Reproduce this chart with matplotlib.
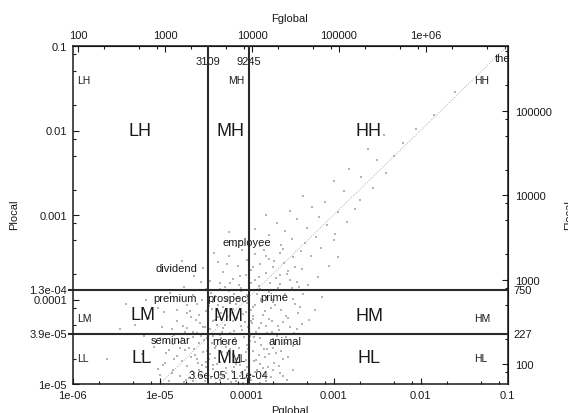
import matplotlib
matplotlib.use("Agg")
import matplotlib.pyplot as plt
from matplotlib.ticker import LogLocator, FuncFormatter, NullFormatter

plt.rcParams['font.family'] = ['Liberation Sans', 'DejaVu Sans']

# ---------------- data ----------------
global_total = 8.64e7          # Fglobal = Pglobal * global_total
local_total = 5.8e6            # Flocal  = Plocal  * local_total
fglobal_cuts = [3109, 9245]
pglobal_cut_labels = ['3.6e-05', '1.1e-04']
flocal_cuts = [750, 227]
plocal_cut_labels = ['1.3e-04', '3.9e-05']

# scatter cloud, (log10 Pglobal, log10 Plocal)
pts_low = [(-4.62,-4.97),(-4.41,-4.93),(-4.18,-4.98),(-3.95,-4.95),(-4.77,-4.91),(-4.05,-4.88),
           (-4.33,-4.86),(-3.72,-4.92),(-4.55,-4.84),(-4.89,-4.96),(-3.88,-4.83),(-4.24,-4.81),
           (-4.68,-4.79),(-4.12,-4.76),(-3.61,-4.87),(-4.47,-4.74),(-4.01,-4.72),(-4.83,-4.71),
           (-4.36,-4.69),(-3.79,-4.68),(-4.59,-4.66),(-4.15,-4.64),(-5.02,-4.82),(-4.93,-4.63),
           (-3.93,-4.61),(-4.28,-4.62),(-4.71,-4.60),(-3.68,-4.75),(-4.44,-4.99),(-4.08,-4.91),
           (-3.84,-4.99),(-4.52,-4.90),(-4.99,-4.89),(-5.11,-4.74),(-4.21,-4.94),(-3.99,-4.80),
           (-4.63,-4.85),(-3.54,-4.95),(-4.38,-4.77),(-3.75,-4.80),(-4.80,-4.67),(-4.10,-4.69),
           (-3.86,-4.66),(-4.50,-4.62),(-4.26,-4.73),(-3.47,-4.83),(-4.72,-4.98),(-4.31,-4.95),
           (-3.66,-4.63),(-5.20,-4.65),(-4.96,-4.78),(-4.04,-4.99),(-4.57,-4.71),(-3.91,-4.73),
           (-4.17,-4.85),(-3.58,-4.71),(-4.86,-4.87),(-4.42,-4.65),(-3.80,-4.89),(-4.66,-4.93),
           (-5.60,-4.70)]
pts_lowmid = [(-4.60,-4.58),(-4.35,-4.55),(-4.09,-4.57),(-3.83,-4.54),(-4.84,-4.53),(-5.06,-4.56),
              (-4.22,-4.51),(-3.96,-4.49),(-4.49,-4.48),(-4.74,-4.46),(-3.70,-4.47),(-4.03,-4.44),
              (-4.30,-4.42),(-5.18,-4.43),(-4.90,-4.41),(-3.55,-4.52),(-4.57,-4.40),(-3.89,-4.39),
              (-4.14,-4.37),(-4.42,-4.35),(-4.68,-4.34),(-3.63,-4.36),(-4.97,-4.32),(-3.78,-4.31),
              (-4.25,-4.30),(-4.53,-4.28),(-4.02,-4.27),(-3.45,-4.40),(-4.80,-4.26),(-5.28,-4.30),
              (-4.36,-4.24),(-3.92,-4.23),(-4.11,-4.22),(-4.64,-4.21),(-3.71,-4.25),(-3.36,-4.29),
              (-4.45,-4.46),(-4.19,-4.59),(-3.98,-4.33),(-4.76,-4.57),(-5.12,-4.22),(-3.85,-4.45),
              (-4.28,-4.38),(-4.62,-4.44),(-4.00,-4.54),(-3.58,-4.27),(-4.93,-4.50),(-4.40,-4.52),
              (-3.76,-4.58),(-4.16,-4.48),(-4.71,-4.38),(-3.50,-4.33),(-4.33,-4.21),(-3.28,-4.24),
              (-4.86,-4.35),(-4.07,-4.41),(-3.65,-4.43),(-4.50,-4.33),(-5.00,-4.45),(-3.94,-4.28),
              (-5.45,-4.35)]
pts_mid = [(-4.55,-4.18),(-4.29,-4.16),(-4.04,-4.17),(-3.79,-4.14),(-4.80,-4.13),(-3.55,-4.19),
           (-4.16,-4.11),(-3.92,-4.09),(-4.43,-4.08),(-4.68,-4.06),(-3.67,-4.07),(-5.02,-4.10),
           (-4.00,-4.04),(-4.24,-4.02),(-3.44,-4.05),(-4.51,-4.01),(-3.83,-3.99),(-4.10,-3.97),
           (-4.36,-3.96),(-4.62,-3.95),(-3.58,-3.98),(-3.21,-4.12),(-4.88,-3.92),(-3.74,-3.91),
           (-4.20,-3.90),(-3.97,-3.88),(-4.46,-3.87),(-3.35,-3.93),(-4.72,-3.85),(-3.86,-3.84),
           (-4.09,-3.83),(-3.62,-3.82),(-4.31,-3.81),(-3.48,-3.86),(-5.15,-4.00),(-4.58,-3.89),
           (-3.13,-3.97),(-3.95,-4.13),(-4.38,-4.03),(-3.70,-4.01),(-4.14,-3.93),(-4.95,-4.15),
           (-3.41,-4.16),(-4.27,-4.09),(-3.88,-3.94),(-3.52,-3.89),(-4.65,-4.14),(-4.06,-3.86),
           (-3.29,-3.83),(-4.41,-3.92),(-5.38,-4.05)]
pts_core = [(-4.70,-4.95),(-4.48,-4.96),(-4.27,-4.90),(-4.02,-4.93),(-3.78,-4.97),(-3.58,-4.90),
            (-4.85,-4.84),(-4.60,-4.88),(-4.39,-4.82),(-4.14,-4.80),(-3.90,-4.86),(-3.70,-4.84),
            (-4.94,-4.75),(-4.74,-4.73),(-4.51,-4.78),(-4.30,-4.74),(-4.07,-4.78),(-3.84,-4.76),
            (-3.63,-4.79),(-4.64,-4.68),(-4.43,-4.70),(-4.20,-4.66),(-3.97,-4.69),(-3.74,-4.65),
            (-3.52,-4.68),(-4.89,-4.60),(-4.66,-4.57),(-4.45,-4.61),(-4.24,-4.56),(-4.01,-4.62),
            (-3.80,-4.59),(-3.60,-4.61),(-4.78,-4.50),(-4.55,-4.52),(-4.33,-4.48),(-4.12,-4.52),
            (-3.90,-4.50),(-3.68,-4.52),(-3.47,-4.55),(-4.83,-4.42),(-4.62,-4.39),(-4.39,-4.43),
            (-4.19,-4.40),(-3.96,-4.43),(-3.76,-4.40),(-3.55,-4.44),(-4.73,-4.31),(-4.48,-4.32),
            (-4.27,-4.34),(-4.06,-4.31),(-3.86,-4.34),(-3.64,-4.31),(-3.42,-4.35),(-4.58,-4.24),
            (-4.38,-4.26),(-4.15,-4.25),(-3.95,-4.26),(-3.74,-4.23),(-3.52,-4.22),(-4.68,-4.16),
            (-4.46,-4.14),(-4.22,-4.19),(-4.01,-4.15),(-3.81,-4.18),(-3.60,-4.13),(-3.38,-4.09),
            (-4.57,-4.05),(-4.33,-4.07),(-4.12,-4.05),(-3.90,-4.06),(-3.69,-4.03),(-3.47,-3.99),
            (-4.44,-3.97),(-4.21,-3.98),(-3.99,-3.95),(-3.78,-3.97),(-3.56,-3.93),(-4.30,-3.88),
            (-4.06,-3.90),(-3.85,-3.88),(-3.64,-3.86),(-3.40,-3.85),(-4.52,-3.79),(-4.19,-3.81),
            (-3.95,-3.80),(-3.73,-3.81),(-3.50,-3.77),(-4.08,-3.72),(-3.86,-3.73),(-3.62,-3.71),
            (-3.44,-3.62),(-3.93,-3.62),(-4.22,-3.58),(-3.78,-3.48),(-3.58,-3.40),(-4.12,-3.37),
            (-4.35,-4.99),(-4.12,-4.97),(-3.92,-4.91),(-4.23,-4.87),(-4.46,-4.80),(-4.02,-4.83),
            (-3.81,-4.81),(-4.34,-4.76),(-4.11,-4.71),(-3.89,-4.72),(-4.56,-4.75),(-4.22,-4.63),
            (-3.98,-4.58),(-4.36,-4.57),(-3.69,-4.57),(-4.13,-4.46),(-3.91,-4.44),(-4.29,-4.45),
            (-4.52,-4.43),(-3.71,-4.38),(-4.05,-4.36),(-4.34,-4.30),(-3.83,-4.28),(-4.18,-4.16),
            (-3.93,-4.20),(-4.40,-4.11),(-3.72,-4.10),(-4.07,-4.00),(-3.83,-4.02),(-4.25,-3.85)]
pts_upper = [(-4.42,-3.78),(-4.15,-3.76),(-3.90,-3.77),(-3.66,-3.74),(-3.42,-3.79),(-4.60,-3.72),
             (-4.01,-3.71),(-3.78,-3.69),(-3.54,-3.70),(-4.27,-3.68),(-3.18,-3.73),(-3.95,-3.65),
             (-4.50,-3.63),(-3.70,-3.62),(-3.36,-3.64),(-4.10,-3.60),(-3.84,-3.58),(-3.57,-3.57),
             (-4.33,-3.56),(-3.05,-3.60),(-3.99,-3.53),(-3.74,-3.52),(-3.47,-3.50),(-4.20,-3.49),
             (-3.26,-3.48),(-3.90,-3.46),(-3.62,-3.45),(-4.74,-3.55),(-3.37,-3.43),(-4.05,-3.42),
             (-2.95,-3.50),(-3.80,-3.41),(-3.52,-3.66),(-4.37,-3.45),(-3.14,-3.39),(-3.68,-3.55),
             (-3.85,-3.37),(-3.60,-3.35),(-3.33,-3.33),(-4.08,-3.31),(-3.48,-3.28),(-3.20,-3.26),
             (-3.74,-3.24),(-2.98,-3.22),(-3.56,-3.19),(-3.90,-3.17),(-3.30,-3.15),(-3.08,-3.12),
             (-3.65,-3.10),(-2.85,-3.08),(-3.42,-3.05),(-3.17,-3.02),(-3.78,-3.00),(-2.95,-2.97),
             (-3.50,-2.95),(-2.75,-2.93),(-3.25,-2.91),(-4.20,-3.20),(-3.00,-3.30)]
pts_tail = [(-3.10,-2.85),(-2.70,-2.82),(-3.35,-2.78),(-2.88,-2.72),(-2.55,-2.68),(-3.00,-2.60),
            (-2.68,-2.55),(-2.40,-2.50),(-2.82,-2.45),(-2.50,-2.35),(-2.30,-2.30),(-2.60,-2.22),
            (-2.20,-2.15),(-2.42,-2.05),(-2.05,-1.98),(-1.85,-1.82),(-1.60,-1.55)]

quad_names = ['LH', 'MH', 'HH', 'LM', 'MM', 'HM', 'LL', 'ML', 'HL']
small_names = ['LH', 'MH', 'HH', 'LM', 'HM', 'LL', 'ML', 'HL']
words = ['the', 'employee', 'dividend', 'premium', 'prospect', 'prime', 'seminar', 'mere', 'animal']

# ---------------- figure ----------------
W, H = 568, 414
fig = plt.figure(figsize=(W / 100, H / 100), dpi=100)
L, R, T, B = 72.5, 507.5, 47.0, 385.0
ax = fig.add_axes([L / W, (H - B) / H, (R - L) / W, (B - T) / H])
ax.set_xscale('log')
ax.set_yscale('log')
ax.set_xlim(1e-6, 0.1)
ax.set_ylim(1e-5, 0.1)

def at(px, py):
    """pixel position -> data coordinates (layout helper)"""
    return (10 ** (-6 + 5 * (px - L) / (R - L)), 10 ** (-5 + 4 * (B - py) / (B - T)))

ink = '#1a1a1a'
gfmt = FuncFormatter(lambda v, _: '%g' % v)

# scatter
allpts = pts_low + pts_lowmid + pts_mid + pts_core + pts_upper + pts_tail
xs = [10 ** p[0] for p in allpts]
ys = [10 ** p[1] for p in allpts]
ax.scatter(xs, ys, s=1.1, c='#b4b4b4', linewidths=0, marker='s', zorder=1)

# diagonal Plocal = Pglobal
diag = [1e-5, 0.1]
ax.plot(diag, diag, color='#b0b0b0', lw=0.7, ls=(0, (1, 1.5)), zorder=1)

# threshold lines
pg_cuts = [f / global_total for f in fglobal_cuts]
pl_cuts = [f / local_total for f in flocal_cuts]
for x in pg_cuts:
    ax.axvline(x, color='#2a2a2a', lw=1.5, zorder=3)
for y in pl_cuts:
    ax.axhline(y, color='#2a2a2a', lw=1.5, zorder=3)

# threshold labels
for x, f, lab in zip(pg_cuts, fglobal_cuts, pglobal_cut_labels):
    ax.text(x, 1 - 15 / (B - T), str(f), transform=ax.get_xaxis_transform(),
            ha='center', va='center', fontsize=8, color=ink, zorder=2)
    ax.text(x, 9 / (B - T), lab, transform=ax.get_xaxis_transform(),
            ha='center', va='center', fontsize=8, color=ink, zorder=2)
for y, f, lab in zip(pl_cuts, flocal_cuts, plocal_cut_labels):
    ax.text(-5.5 / (R - L), y, lab, transform=ax.get_yaxis_transform(),
            ha='right', va='center', fontsize=8, color=ink, clip_on=False)
    ax.plot([-4 / (R - L), 0], [y, y], transform=ax.get_yaxis_transform(),
            color='#2a2a2a', lw=1.5, clip_on=False)
    ax.text(1 + 5.5 / (R - L), y, str(f), transform=ax.get_yaxis_transform(),
            ha='left', va='center', fontsize=8, color=ink, clip_on=False)

# big quadrant labels
big_pos = [(140, 132), (230, 132), (368, 132), (143, 316), (228, 317), (369, 317),
           (141, 359), (229, 359), (369, 359)]
for name, (px, py) in zip(quad_names, big_pos):
    ax.text(*at(px, py), name, ha='center', va='center', fontsize=13, color=ink, zorder=2)

# small quadrant labels
small_pos = [(77, 81), (228, 81), (474, 81), (77, 319), (474, 319),
             (77, 359), (231, 359), (474, 359)]
for name, (px, py) in zip(small_names, small_pos):
    ax.text(*at(px, py), name, ha='left', va='center', fontsize=7.5, color=ink, zorder=2)

# word labels
word_pos = [(503, 59), (247, 243), (176, 269), (175, 299), (229, 299), (274, 298),
            (171, 341), (225, 342), (285, 342)]
for w, (px, py) in zip(words, word_pos):
    ax.text(*at(px, py), w, ha='center', va='center', fontsize=8, color=ink,
            zorder=2, clip_on=False)

# main axes ticks
for axis in (ax.xaxis, ax.yaxis):
    axis.set_major_locator(LogLocator(base=10, numticks=20))
    axis.set_minor_locator(LogLocator(base=10, subs=[2, 5, 8], numticks=20))
    axis.set_major_formatter(gfmt)
    axis.set_minor_formatter(NullFormatter())
ax.tick_params(which='both', direction='in', top=False, right=False, colors=ink,
               labelsize=8, width=0.8)
ax.tick_params(which='major', length=4)
ax.tick_params(which='minor', length=2.5)
ax.tick_params(axis='x', pad=4.5)
ax.tick_params(axis='y', pad=4)
for s in ax.spines.values():
    s.set_linewidth(1.1)
    s.set_color(ink)

# secondary axes (frequencies)
axt = ax.secondary_xaxis('top', functions=(lambda p: p * global_total,
                                           lambda f: f / global_total))
axr = ax.secondary_yaxis('right', functions=(lambda p: p * local_total,
                                             lambda f: f / local_total))
for sec, axis in ((axt, axt.xaxis), (axr, axr.yaxis)):
    axis.set_major_locator(LogLocator(base=10, numticks=20))
    axis.set_minor_locator(LogLocator(base=10, subs=[2, 5, 8], numticks=20))
    axis.set_major_formatter(gfmt)
    axis.set_minor_formatter(NullFormatter())
    sec.tick_params(which='both', direction='in', colors=ink, labelsize=8, width=0.8)
    sec.tick_params(which='major', length=4)
    sec.tick_params(which='minor', length=2.5)
axt.tick_params(pad=4.5)
axr.tick_params(pad=5.5)

# axis titles
fig.text(290 / W, 1 - 19 / H, 'Fglobal', ha='center', va='center', fontsize=8, color=ink)
fig.text(290 / W, 1 - 411 / H, 'Pglobal', ha='center', va='center', fontsize=8, color=ink)
fig.text(14 / W, 1 - 215 / H, 'Plocal', ha='center', va='center', fontsize=8,
         rotation=90, color=ink)
fig.text(569 / W, 1 - 215 / H, 'Flocal', ha='center', va='center', fontsize=8,
         rotation=90, color=ink)

fig.savefig('out.png', dpi=100, facecolor='white')
